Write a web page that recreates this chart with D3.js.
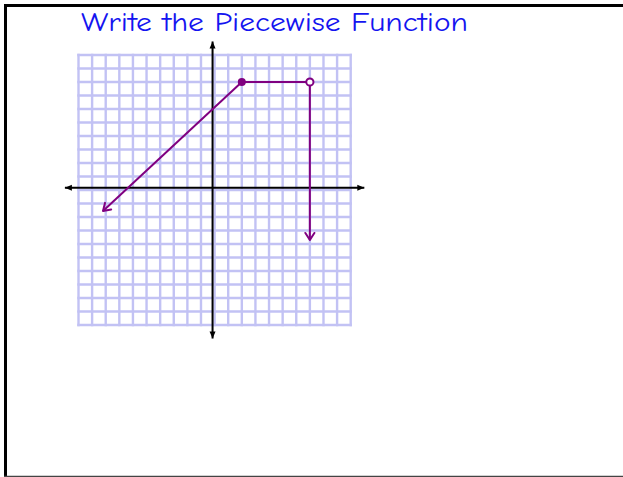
<!DOCTYPE html>
<html>
<head>
<meta charset="utf-8">
<script src="https://cdn.jsdelivr.net/npm/d3@7"></script>
<style>
  html, body { margin: 0; padding: 0; background: #fff; }
  svg { display: block; }
</style>
</head>
<body>
<svg id="chart" width="623" height="477"></svg>
<script>
// chart data (grid units, grid runs -10..10)
const titleText = "Write the Piecewise Function";
const gridTicks = d3.range(-10, 11);
const axisOrigin = [-0.15, 0.17];      // where the drawn axes cross, in grid units
const axisExtent = [-11, 11];
const diagonalRay = [[2, 8], [-8.2, -1.55]];
const flatSegment = [[2, 8], [7, 8]];
const verticalRay = [[7, 8], [7, -3.7]];
const closedPoints = [[2, 8]];
const openPoints = [[7, 8]];

const purple = "#800080";

let svg = d3.select("#chart");

// scales
const x = d3.scaleLinear().domain([-10, 10]).range([78.5, 350.7]);
const y = d3.scaleLinear().domain([-10, 10]).range([325, 55]);

// page frame
let frame = svg.append("g");
frame.append("line").attr("x1", 4).attr("x2", 623).attr("y1", 5.5).attr("y2", 5.5)
  .attr("stroke", "#000").attr("stroke-width", 3);
frame.append("line").attr("x1", 5.5).attr("x2", 5.5).attr("y1", 4).attr("y2", 477)
  .attr("stroke", "#000").attr("stroke-width", 3);
frame.append("line").attr("x1", 4).attr("x2", 623).attr("y1", 476.4).attr("y2", 476.4)
  .attr("stroke", "#444").attr("stroke-width", 1.4);

// markers
let defs = svg.append("defs");
defs.append("marker")
  .attr("id", "axis-head")
  .attr("markerUnits", "userSpaceOnUse")
  .attr("viewBox", "-8 -4 9 8")
  .attr("markerWidth", 9).attr("markerHeight", 8)
  .attr("refX", 0).attr("refY", 0)
  .attr("orient", "auto-start-reverse")
  .append("path")
  .attr("d", "M0,0 L-7,-3 L-7,3 Z")
  .attr("fill", "#000");

defs.append("marker")
  .attr("id", "ray-head")
  .attr("markerUnits", "userSpaceOnUse")
  .attr("viewBox", "-10 -6 12 12")
  .attr("markerWidth", 12).attr("markerHeight", 12)
  .attr("refX", 0).attr("refY", 0)
  .attr("orient", "auto")
  .append("path")
  .attr("d", "M-7,-4.5 L0,0 L-7,4.5")
  .attr("fill", "none")
  .attr("stroke", purple)
  .attr("stroke-width", 2)
  .attr("stroke-linecap", "round")
  .attr("stroke-linejoin", "round");

// grid
let grid = svg.append("g").attr("stroke", "#c2c2f4").attr("stroke-width", 2.4);
grid.selectAll(".v")
  .data(gridTicks)
  .join("line")
  .attr("class", "v")
  .attr("x1", d => x(d)).attr("x2", d => x(d))
  .attr("y1", y(10) - 1.2).attr("y2", y(-10) + 1.2);
grid.selectAll(".h")
  .data(gridTicks)
  .join("line")
  .attr("class", "h")
  .attr("y1", d => y(d)).attr("y2", d => y(d))
  .attr("x1", x(-10) - 1.2).attr("x2", x(10) + 1.2);

// axes, arrow at both ends
let axes = svg.append("g").attr("stroke", "#000").attr("stroke-width", 2);
axes.append("line")
  .attr("x1", x(axisExtent[0])).attr("x2", x(axisExtent[1]))
  .attr("y1", y(axisOrigin[1])).attr("y2", y(axisOrigin[1]))
  .attr("marker-start", "url(#axis-head)")
  .attr("marker-end", "url(#axis-head)");
axes.append("line")
  .attr("x1", x(axisOrigin[0])).attr("x2", x(axisOrigin[0]))
  .attr("y1", y(axisExtent[0])).attr("y2", y(axisExtent[1]))
  .attr("marker-start", "url(#axis-head)")
  .attr("marker-end", "url(#axis-head)");

// the graph
const lineGen = d3.line().x(d => x(d[0])).y(d => y(d[1]));

let graph = svg.append("g");
graph.selectAll("path")
  .data([diagonalRay, flatSegment, verticalRay])
  .join("path")
  .attr("d", d => lineGen(d))
  .attr("fill", "none")
  .attr("stroke", purple)
  .attr("stroke-width", 2)
  .attr("marker-end", d => d === flatSegment ? null : "url(#ray-head)");

graph.selectAll(".closed")
  .data(closedPoints)
  .join("circle")
  .attr("class", "closed")
  .attr("cx", d => x(d[0])).attr("cy", d => y(d[1]))
  .attr("r", 4)
  .attr("fill", purple);

graph.selectAll(".open")
  .data(openPoints)
  .join("circle")
  .attr("class", "open")
  .attr("cx", d => x(d[0])).attr("cy", d => y(d[1]))
  .attr("r", 3.6)
  .attr("fill", "#fff")
  .attr("stroke", purple)
  .attr("stroke-width", 2);

// title
svg.append("text")
  .attr("x", 81)
  .attr("y", 31)
  .attr("font-family", "'Comic Sans MS', 'Comic Neue', 'DejaVu Sans', sans-serif")
  .attr("font-size", 27)
  .attr("fill", "#1414f0")
  .attr("textLength", 387)
  .attr("lengthAdjust", "spacingAndGlyphs")
  .text(titleText);
</script>
</body>
</html>
